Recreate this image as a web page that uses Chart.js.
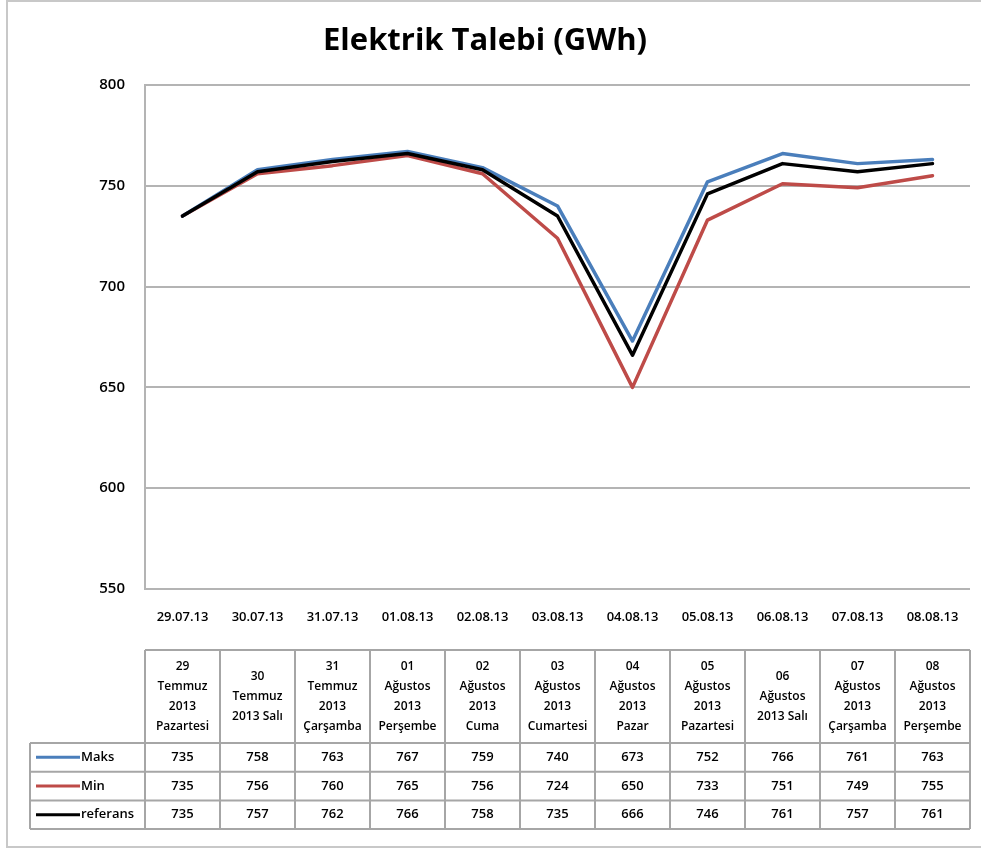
<!DOCTYPE html>
<html>
<head>
<meta charset="utf-8">
<script src="https://cdn.jsdelivr.net/npm/chart.js@4"></script>
<style>
  html, body { margin: 0; padding: 0; background: #fff; }
  #wrap { position: relative; width: 981px; height: 851px; }
  #frame { position: absolute; left: 6px; top: 0; width: 981px; height: 848px;
           border-left: 2px solid #c8c8c8; border-top: 2px solid #c8c8c8; border-bottom: 2px solid #c8c8c8;
           box-sizing: border-box; pointer-events: none; }
</style>
</head>
<body>
<div id="wrap">
  <canvas id="chart" width="981" height="851"></canvas>
  <div id="frame"></div>
</div>
<script>
// ─── Data ─────────────────────────────────────────────────────────────────────
const dateLabels = ['29.07.13', '30.07.13', '31.07.13', '01.08.13', '02.08.13', '03.08.13',
  '04.08.13', '05.08.13', '06.08.13', '07.08.13', '08.08.13'];

const headerLabels = [
  ['29', 'Temmuz', '2013', 'Pazartesi'],
  ['30', 'Temmuz', '2013 Salı'],
  ['31', 'Temmuz', '2013', 'Çarşamba'],
  ['01', 'Ağustos', '2013', 'Perşembe'],
  ['02', 'Ağustos', '2013', 'Cuma'],
  ['03', 'Ağustos', '2013', 'Cumartesi'],
  ['04', 'Ağustos', '2013', 'Pazar'],
  ['05', 'Ağustos', '2013', 'Pazartesi'],
  ['06', 'Ağustos', '2013 Salı'],
  ['07', 'Ağustos', '2013', 'Çarşamba'],
  ['08', 'Ağustos', '2013', 'Perşembe'],
];

const maksValues = [735, 758, 763, 767, 759, 740, 673, 752, 766, 761, 763];
const minValues = [735, 756, 760, 765, 756, 724, 650, 733, 751, 749, 755];
const referansValues = [735, 757, 762, 766, 758, 735, 666, 746, 761, 757, 761];

const yTicks = [550, 600, 650, 700, 750, 800];

const FONT = "'Open Sans', 'DejaVu Sans', sans-serif";
const GRID = '#b4b4b4';
const TABLE_LINE = '#a6a6a6';

// ─── Data table under the chart (columns follow the x scale) ─────────────────
const dataTablePlugin = {
  id: 'dataTable',
  afterDraw(chart) {
    const ctx = chart.ctx;
    const x = chart.scales.x;
    const area = chart.chartArea;
    const colW = (area.right - area.left) / dateLabels.length;
    const headTop = 650, headBottom = 743, rowH = 28.7;
    const legendLeft = 30;
    const rows = chart.data.datasets;

    ctx.save();
    ctx.fillStyle = '#000';
    ctx.textAlign = 'center';
    ctx.textBaseline = 'middle';
    ctx.font = `600 12px ${FONT}`;

    // header cells
    headerLabels.forEach((lines, i) => {
      const cx = x.getPixelForValue(i);
      const lh = 20;
      const startY = (headTop + headBottom) / 2 - (lines.length - 1) * lh / 2;
      lines.forEach((t, k) => ctx.fillText(t, cx, startY + k * lh));
    });

    // value rows
    rows.forEach((ds, r) => {
      const cy = headBottom + rowH * r + rowH / 2;
      ctx.textAlign = 'center';
      ctx.font = `600 13px ${FONT}`;
      ds.data.forEach((v, i) => ctx.fillText(String(v), x.getPixelForValue(i), cy));
      // legend key
      ctx.strokeStyle = ds.borderColor;
      ctx.lineWidth = 3;
      ctx.beginPath();
      ctx.moveTo(legendLeft + 6, cy);
      ctx.lineTo(legendLeft + 50, cy);
      ctx.stroke();
      ctx.textAlign = 'left';
      ctx.fillText(ds.label, legendLeft + 51, cy);
    });

    // grid lines of the table
    const tableBottom = headBottom + rowH * rows.length;
    ctx.strokeStyle = TABLE_LINE;
    ctx.lineWidth = 2;
    ctx.beginPath();
    ctx.moveTo(area.left, headTop); ctx.lineTo(area.right, headTop);
    for (let r = 0; r <= rows.length; r++) {
      const yy = headBottom + rowH * r;
      ctx.moveTo(legendLeft, yy); ctx.lineTo(area.right, yy);
    }
    for (let i = 0; i <= dateLabels.length; i++) {
      const xx = area.left + colW * i;
      ctx.moveTo(xx, headTop); ctx.lineTo(xx, tableBottom);
    }
    ctx.moveTo(legendLeft, headBottom); ctx.lineTo(legendLeft, tableBottom);
    ctx.stroke();
    ctx.restore();
  }
};

// ─── Chart ────────────────────────────────────────────────────────────────────
new Chart(document.getElementById('chart'), {
  type: 'line',
  data: {
    labels: dateLabels,
    datasets: [
      { label: 'Maks', data: maksValues, borderColor: '#4a7ebb', order: 1 },
      { label: 'Min', data: minValues, borderColor: '#be4b48', order: 2 },
      { label: 'referans', data: referansValues, borderColor: '#000000', order: 0 },
    ].map(d => ({ ...d, borderWidth: 3.5, pointRadius: 0, tension: 0, fill: false, borderJoinStyle: 'round', borderCapStyle: 'round' }))
  },
  options: {
    responsive: false,
    animation: false,
    layout: { padding: { left: 0, right: 11, top: 0, bottom: 0 } },
    plugins: {
      legend: { display: false },
      tooltip: { enabled: false },
      title: {
        display: true,
        text: 'Elektrik Talebi (GWh)',
        color: '#000',
        font: { family: FONT, size: 31, weight: 'bold', lineHeight: 1.2 },
        padding: { top: 23, bottom: 24.8 }
      }
    },
    scales: {
      x: {
        offset: true,
        grid: { display: false, drawTicks: false },
        border: { display: false },
        ticks: { color: '#000', padding: 20, maxRotation: 0, font: { family: FONT, size: 13, weight: '600' } },
        afterFit: s => { s.height = 262; }
      },
      y: {
        min: 550, max: 800,
        afterBuildTicks: s => { s.ticks = yTicks.map(v => ({ value: v })); },
        grid: { color: GRID, lineWidth: 2, drawTicks: false },
        border: { display: true, color: GRID, width: 2 },
        ticks: { color: '#000', padding: 20, font: { family: FONT, size: 15, weight: '600' } },
        afterFit: s => { s.width = 145; }
      }
    }
  },
  plugins: [dataTablePlugin]
});
</script>
</body>
</html>
